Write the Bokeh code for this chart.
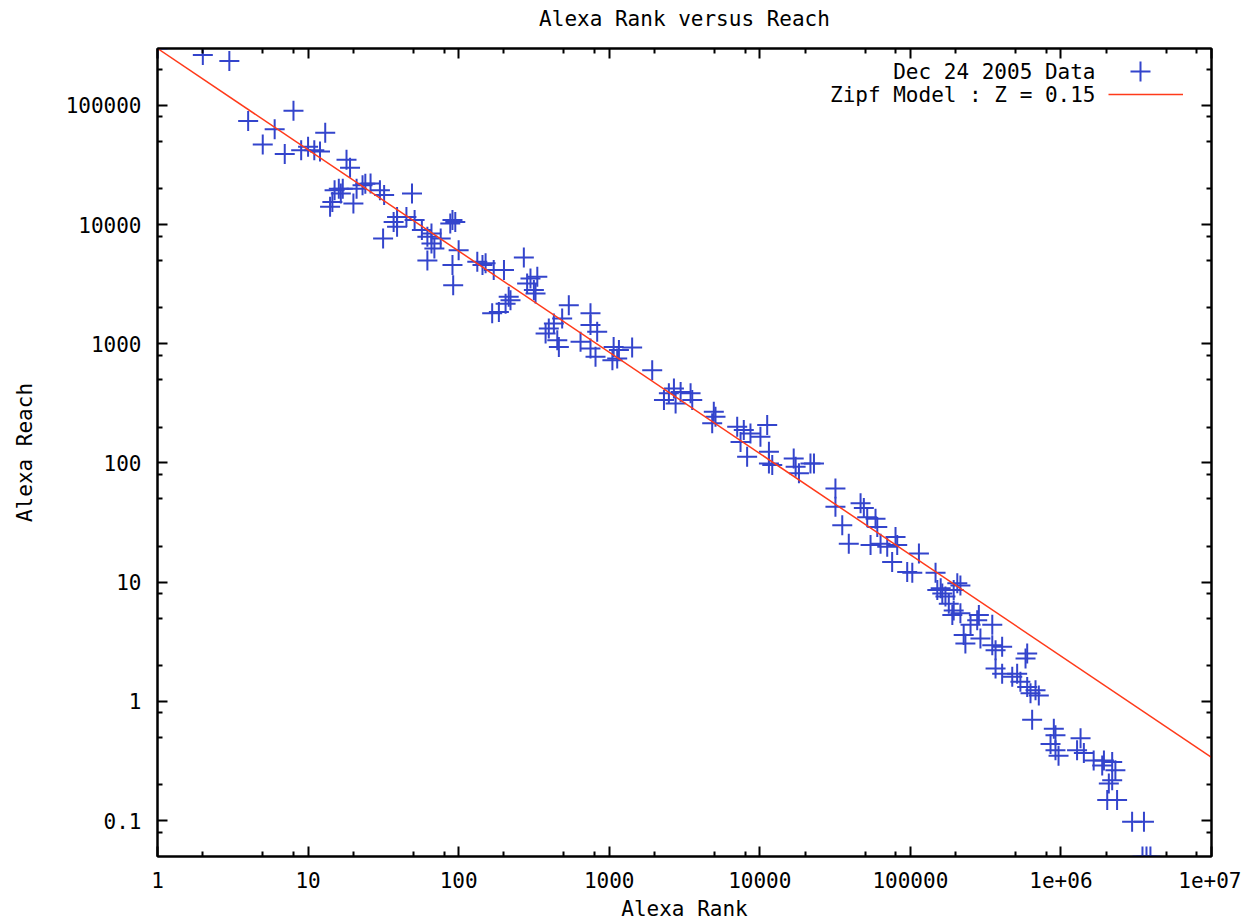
from bokeh.plotting import figure
from bokeh.models import (Range1d, FixedTicker, CustomJSTickFormatter, LogAxis,
                          Label, Legend, LegendItem)
from bokeh.embed import file_html
from bokeh.resources import INLINE

# ---------------- data ----------------
rank = [1, 2, 3, 4, 8, 6, 5, 7, 13, 9, 10, 11, 12,
        18, 19, 16, 14.5, 14, 16.5, 20, 21, 24, 30, 32, 17, 15, 23, 26,
        49, 39, 37, 39, 45, 51, 31.5, 91, 88, 95, 57, 62, 66, 69, 62, 66, 76,
        91, 92, 100, 133, 144, 151, 171, 200, 271, 300, 333, 316, 215, 221, 205,
        167, 185, 397, 378, 452, 429, 324, 285, 539, 487, 463, 751, 751, 832,
        645, 751, 811, 1070, 1130, 1050, 1420, 1160, 1930, 2690, 2490, 2980,
        3470, 2310, 2760, 3560, 4950, 4830, 5080, 7080, 7830, 8670, 11200, 7450,
        8240, 11500, 10100, 17300, 16800, 11500, 12100, 18200, 21700, 22900,
        31800, 31800, 35300, 39000, 46700, 49100, 51700, 58700, 60300, 54400,
        63400, 70200, 79700, 81800, 75700, 95300, 103000, 114000, 147000, 151000,
        163000, 171000, 205000, 194000, 215000, 285000, 159000, 194000, 215000,
        180000, 190000, 278000, 251000, 350000, 226000, 232000, 292000, 350000,
        368000, 407000, 368000, 407000, 475000, 512000, 582000, 597000, 538000,
        597000, 628000, 678000, 713000, 644000, 897000, 920000, 853000, 920000,
        1350000, 1280000, 1420000, 1650000, 1930000, 2190000, 964000, 1880000,
        2300000, 2080000, 2190000, 2030000, 2360000, 2970000, 3560000,
        3480000, 3700000, 3930000]
reach = [300000, 264000, 236000, 74000, 90000, 63000, 47000, 39000, 59000, 42000, 45000, 42000, 41000,
         35000, 30000, 20000, 15500, 14100, 18200, 15000, 20000, 22000, 19400, 17700, 20000, 19400, 21400, 22100,
         18200, 11600, 10500, 9600, 11600, 10900, 7650, 10900, 10200, 10500, 9000, 7900, 6950, 6300, 5000, 8400, 7650,
         4570, 3100, 6100, 4870, 4570, 4730, 4150, 4150, 5300, 3530, 3650, 2820, 2480, 2320, 2170,
         1800, 1850, 1345, 1220, 1070, 1480, 2640, 3210, 2110, 1630, 942, 1800, 1435, 1260,
         1040, 914, 778, 942, 754, 729, 930, 885, 601, 422, 384, 395,
         384, 337, 316, 337, 269, 215, 244, 201, 189, 177, 208, 150,
         113, 99, 166, 93, 109, 124, 96, 82, 99, 99,
         61, 43, 30, 21, 46, 42, 35, 34, 29, 20.5,
         21, 19.8, 24, 20.5, 14.8, 12.2, 12, 17.4, 12, 8.6,
         8.05, 7.6, 9.8, 5.8, 5.5, 5.3, 8.9, 8.6, 9.4,
         6.6, 5.3, 4.8, 4.4, 4.4, 3.6, 3.06, 3.37, 2.96,
         2.69, 2.87, 1.89, 1.71, 1.61, 1.71, 2.29, 2.52, 1.46,
         1.32, 1.17, 1.24, 1.12, 0.70, 0.59, 0.52, 0.44, 0.39,
         0.49, 0.39, 0.37, 0.32, 0.32, 0.31, 0.35, 0.29,
         0.265, 0.205, 0.218, 0.149, 0.149, 0.098, 0.098,
         0.05, 0.05, 0.05]

zipf_rank = [1, 1e7]
zipf_reach = [300000, 0.34]

x_ticks = [1, 10, 100, 1000, 10000, 100000, 1e6, 1e7]
x_tick_labels = ["1", "10", "100", "1000", "10000", "100000", "1e+06", "1e+07"]
x_minor = [m * 10 ** k for k in range(0, 7) for m in (2, 5, 8)]
y_ticks = [0.1, 1, 10, 100, 1000, 10000, 100000]
y_tick_labels = ["0.1", "1", "10", "100", "1000", "10000", "100000"]
y_minor = [0.08] + [m * 10 ** k for k in range(-1, 6) for m in (2, 5, 8)]

title = "Alexa Rank versus Reach"
x_label = "Alexa Rank"
y_label = "Alexa Reach"
series_names = ["Dec 24 2005 Data", "Zipf Model : Z = 0.15"]

FONT = "DejaVu Sans Mono"
FS = "21px"
BLUE = "#3344cc"
RED = "#ff3a1a"

p = figure(x_axis_type="log", y_axis_type="log",
           x_range=Range1d(1, 1e7), y_range=Range1d(0.05, 3e5),
           frame_width=1054, frame_height=808,
           min_border_left=157, min_border_right=30, min_border_top=48, min_border_bottom=56,
           output_backend="svg", toolbar_location=None)

p.grid.visible = False
p.outline_line_color = "black"
p.outline_line_width = 2
p.background_fill_color = "white"
p.border_fill_color = "white"

fmt_code = """
const i = tk.findIndex(t => Math.abs(Math.log10(t) - Math.log10(tick)) < 1e-6);
return i >= 0 ? lb[i] : '';
"""

def style_axis(ax, ticks, minor):
    ax.ticker = FixedTicker(ticks=ticks, minor_ticks=minor)
    ax.axis_line_color = "black"
    ax.axis_line_width = 2
    ax.major_tick_in = 10
    ax.major_tick_out = 0
    ax.minor_tick_in = 5
    ax.minor_tick_out = 0
    ax.major_tick_line_width = 2
    ax.minor_tick_line_width = 2
    ax.major_tick_line_color = "black"
    ax.minor_tick_line_color = "black"
    ax.major_label_text_font = FONT
    ax.major_label_text_font_size = FS
    ax.major_label_text_color = "black"
    ax.axis_label_text_font = FONT
    ax.axis_label_text_font_size = FS
    ax.axis_label_text_font_style = "normal"
    ax.axis_label_text_color = "black"

xa = p.xaxis[0]
style_axis(xa, x_ticks, x_minor)
xa.formatter = CustomJSTickFormatter(args=dict(tk=x_ticks, lb=x_tick_labels), code=fmt_code)
xa.axis_label = x_label
xa.major_label_standoff = 15
xa.axis_label_standoff = 6

ya = p.yaxis[0]
style_axis(ya, y_ticks, y_minor)
ya.formatter = CustomJSTickFormatter(args=dict(tk=y_ticks, lb=y_tick_labels), code=fmt_code)
ya.axis_label = y_label
ya.major_label_standoff = 16
ya.axis_label_standoff = 26

blank = CustomJSTickFormatter(code="return '';")
# top mirror axis carries the chart title as its label
top = LogAxis(formatter=blank, major_label_standoff=0)
style_axis(top, x_ticks, x_minor)
top.axis_label = title
top.axis_label_standoff = 18
right = LogAxis(formatter=blank, major_label_standoff=0)
style_axis(right, y_ticks, y_minor)
p.add_layout(top, "above")
p.add_layout(right, "right")

pts = p.scatter(rank, reach, marker="cross", size=20, line_width=2, color=BLUE)
ln = p.line(zipf_rank, zipf_reach, line_color=RED, line_width=1.5)

# legend: right-aligned texts, samples to the right
for i, name in enumerate(series_names):
    p.add_layout(Label(x=938, y=785 - 23 * i, x_units="screen", y_units="screen",
                       text=name, text_align="right", text_baseline="middle",
                       text_font=FONT, text_font_size=FS, text_color="black"))

def sample_legend(r, loc, w, h):
    lg = Legend(items=[LegendItem(label="", renderers=[r])], location=loc,
                glyph_width=w, glyph_height=h, label_width=0, label_standoff=0,
                label_height=0, padding=0, spacing=0, margin=0,
                border_line_color=None, background_fill_alpha=0)
    p.add_layout(lg)

sample_legend(pts, (958, 760), 50, 50)
sample_legend(ln, (951, 752), 75, 20)

open("out.html", "w").write(file_html(p, INLINE))
